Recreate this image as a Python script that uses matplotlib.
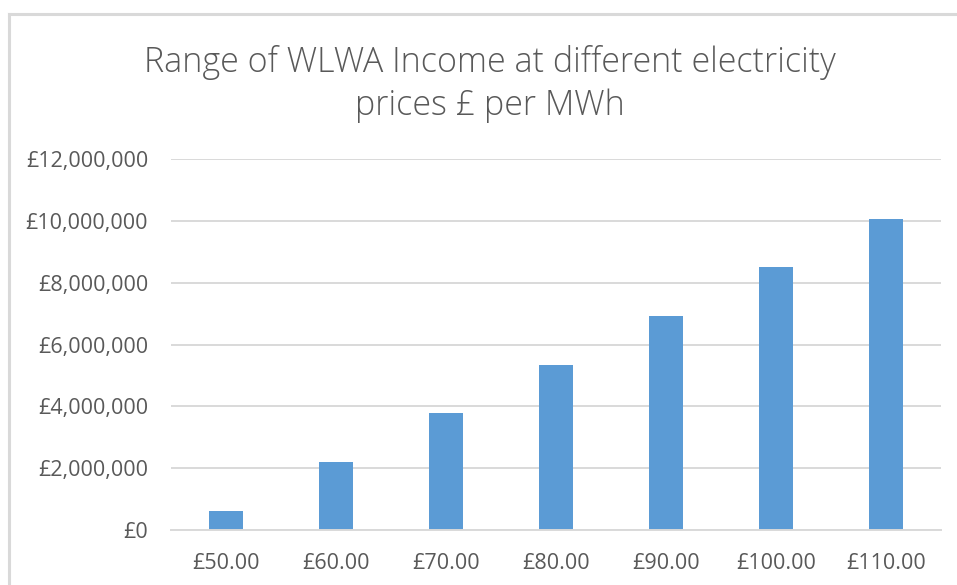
import matplotlib
matplotlib.use("Agg")
import matplotlib.pyplot as plt
from matplotlib.lines import Line2D
from matplotlib.ticker import FuncFormatter

# Electricity price categories and the resulting income (GBP)
prices = ["£50.00", "£60.00", "£70.00", "£80.00", "£90.00", "£100.00", "£110.00"]
income = [620000, 2190000, 3770000, 5340000, 6920000, 8500000, 10070000]
y_ticks = [0, 2000000, 4000000, 6000000, 8000000, 10000000, 12000000]

plt.rcParams["font.family"] = ["Open Sans", "DejaVu Sans"]

text_color = "#595959"
grid_color = "#D9D9D9"
bar_color = "#5B9BD5"

W, H = 957, 585
fig = plt.figure(figsize=(W / 100, H / 100), dpi=100)
ax = fig.add_axes([171 / W, 55 / H, (941 - 171) / W, (530 - 159) / H])

x = list(range(len(prices)))
ax.bar(x, income, width=0.315, color=bar_color, zorder=3)

ax.set_xlim(-0.5, len(prices) - 0.5)
ax.set_ylim(0, 12000000)
ax.set_yticks(y_ticks)
ax.yaxis.set_major_formatter(FuncFormatter(lambda v, _: f"£{v:,.0f}"))
ax.set_xticks(x)
ax.set_xticklabels(prices)

ax.grid(axis="y", color=grid_color, linewidth=1.4, zorder=0)
for side in ("top", "right", "left"):
    ax.spines[side].set_visible(False)
ax.spines["bottom"].set_color(grid_color)
ax.spines["bottom"].set_linewidth(1.4)
ax.spines["bottom"].set_zorder(4)

ax.tick_params(axis="both", length=0, labelsize=15.5, labelcolor=text_color)
ax.tick_params(axis="y", pad=16.5)
ax.tick_params(axis="x", pad=16.5)

fig.text(490 / W, 1 - 84 / H, "Range of WLWA Income at different electricity\nprices £ per MWh",
         ha="center", va="center", fontsize=24.5, color=text_color,
         linespacing=1.32, fontweight="light")

# Chart area frame
fig.add_artist(Line2D([9 / W, 9 / W], [0, 1 - 14 / H], transform=fig.transFigure,
                      color=grid_color, linewidth=2.2))
fig.add_artist(Line2D([9 / W, 1], [1 - 14 / H, 1 - 14 / H], transform=fig.transFigure,
                      color=grid_color, linewidth=2.2))

fig.savefig("out.png", dpi=100)
